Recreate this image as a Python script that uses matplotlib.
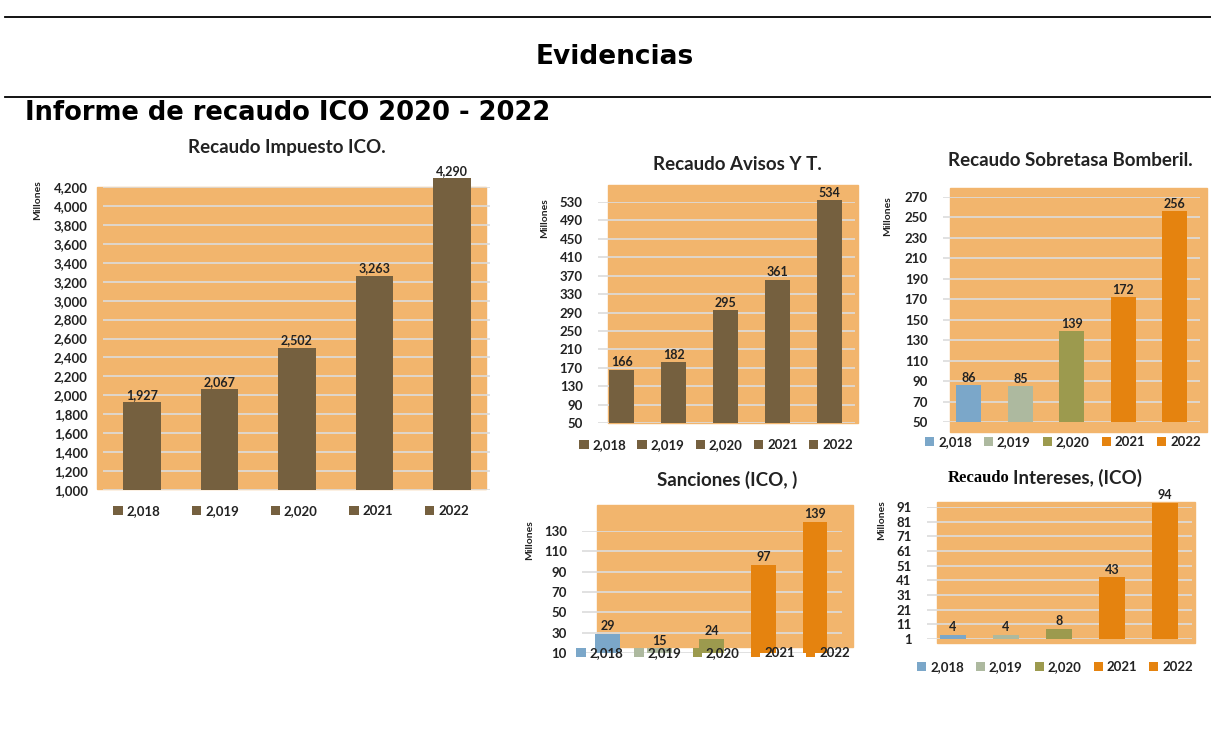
import matplotlib
matplotlib.use("Agg")
import matplotlib.pyplot as plt
from matplotlib.patches import Rectangle
from matplotlib.lines import Line2D

W, H = 1211, 732

# data
years = ["2,018", "2,019", "2,020", "2021", "2022"]
impuesto_ico = [1927, 2067, 2502, 3263, 4290]
avisos = [166, 182, 295, 361, 534]
bomberil = [86, 85, 139, 172, 256]
sanciones = [29, 15, 24, 97, 139]
intereses = [4, 4, 8, 43, 94]

brown = "#75603f"
multi = ["#7ba7c9", "#adb99f", "#9c9a4e", "#e5830f", "#e5830f"]
bg = "#f2b56d"
grid_c = "#dcdcdc"
txt = "#222222"

plt.rcParams["font.family"] = ["Lato", "DejaVu Sans"]

fig = plt.figure(figsize=(W / 100, H / 100), dpi=100)


def fx(x):
    return x / W


def fy(y):
    return 1 - y / H


# header lines and titles
fig.add_artist(Line2D([fx(5), 1], [fy(17), fy(17)], color="black", lw=1.3))
fig.add_artist(Line2D([fx(5), 1], [fy(97), fy(97)], color="black", lw=1.3))
fig.text(fx(615), fy(57), "Evidencias", family="DejaVu Sans", weight="bold",
         fontsize=19, ha="center", va="center")
fig.text(fx(25), fy(113), "Informe de recaudo ICO 2020 - 2022", family="DejaVu Sans",
         weight="bold", fontsize=18.5, ha="left", va="center")


def chart(vals, colors, ylim, ticks, ax_px, bg_px, title, title_xy, leg_xy, ylab_xy,
          colsp=1.0, fmt="{:,.0f}"):
    x0, x1, ytop, ybot, xl = ax_px
    ax = fig.add_axes([fx(x0), fy(ybot), (x1 - x0) / W, (ybot - ytop) / H])
    bx0, bx1, by0, by1 = bg_px
    fig.patches.append(Rectangle((fx(bx0), fy(by1)), (bx1 - bx0) / W, (by1 - by0) / H,
                                 transform=fig.transFigure, color=bg, zorder=-1))
    ax.patch.set_visible(False)
    for i, (v, c) in enumerate(zip(vals, colors)):
        b = ax.bar(i, v - ylim[0], bottom=ylim[0], width=0.48, color=c,
                   label=years[i], zorder=3, clip_on=False)
        anns = ax.bar_label(b, labels=[fmt.format(v)], padding=1, fontsize=9,
                            weight="bold", color=txt, zorder=4)
        for a in anns:
            a.set_annotation_clip(False)
            a.set_clip_on(False)
    ax.set_xlim(*xl)
    ax.set_ylim(*ylim)
    ax.set_yticks(ticks)
    ax.set_yticklabels([f"{t:,}" for t in ticks])
    ax.set_xticks([])
    ax.tick_params(axis="y", length=0, pad=11, labelsize=9.5, labelcolor=txt)
    for t in ax.get_yticklabels():
        t.set_fontweight("bold")
    ax.grid(axis="y", color=grid_c, lw=1.2, zorder=1)
    for s in ax.spines.values():
        s.set_visible(False)
    if title:
        fig.text(fx(title_xy[0]), fy(title_xy[1]), title, ha="center", va="center",
                 fontsize=13.5, weight="bold", color=txt)
    fig.text(fx(ylab_xy[0]), fy(ylab_xy[1]), "Millones", rotation=90, ha="center",
             va="top", fontsize=7.5, weight="bold", color=txt)
    leg = ax.legend(loc="center", bbox_to_anchor=(fx(leg_xy[0]), fy(leg_xy[1])),
                    bbox_transform=fig.transFigure, ncol=5, frameon=False,
                    handlelength=0.7, handleheight=0.7, handletextpad=0.3,
                    columnspacing=colsp, prop={"size": 9.5, "weight": "bold"})
    leg.set_zorder(10)
    for t in leg.get_texts():
        t.set_color(txt)
    return ax


chart(impuesto_ico, [brown] * 5, (1000, 4200), list(range(1000, 4201, 200)),
      (103, 490, 187, 490, (-0.503, 4.49)), (97, 486, 187, 489),
      "Recaudo Impuesto ICO.", (287, 147), (291, 511), (38, 180), colsp=2.4)

chart(avisos, [brown] * 5, (50, 530), list(range(50, 531, 40)),
      (598, 855, 202, 423, (-0.46, 4.5)), (608, 858, 185, 423),
      "Recaudo Avisos Y T.", (737, 165), (716, 445), (545, 198), colsp=0.85)

chart(bomberil, multi, (50, 270), list(range(50, 271, 20)),
      (943, 1200, 197, 422, (-0.5, 4.49)), (950, 1207, 188, 432),
      "Recaudo Sobretasa Bomberil.", (1070, 160), (1063, 442), (888, 196), colsp=0.9)

chart(sanciones, multi, (10, 130), list(range(10, 131, 20)),
      (582, 842, 531, 653, (-0.5, 4.52)), (597, 853, 505, 647),
      "Sanciones (ICO, )", (727, 480), (713, 653), (530, 520), colsp=0.85)

chart(intereses, multi, (1, 91), list(range(1, 92, 10)),
      (927, 1192, 507, 639, (-0.49, 4.51)), (937, 1195, 502, 643),
      "", (1045, 478), (1055, 667), (882, 500), colsp=0.9)
fig.text(fx(1010), fy(478), "Recaudo", family="Liberation Serif", weight="bold",
         fontsize=12, ha="right", va="center", color="black")
fig.text(fx(1013), fy(478), "Intereses, (ICO)", weight="bold",
         fontsize=13.5, ha="left", va="center", color=txt)

fig.savefig("out.png", dpi=100, facecolor="white")
